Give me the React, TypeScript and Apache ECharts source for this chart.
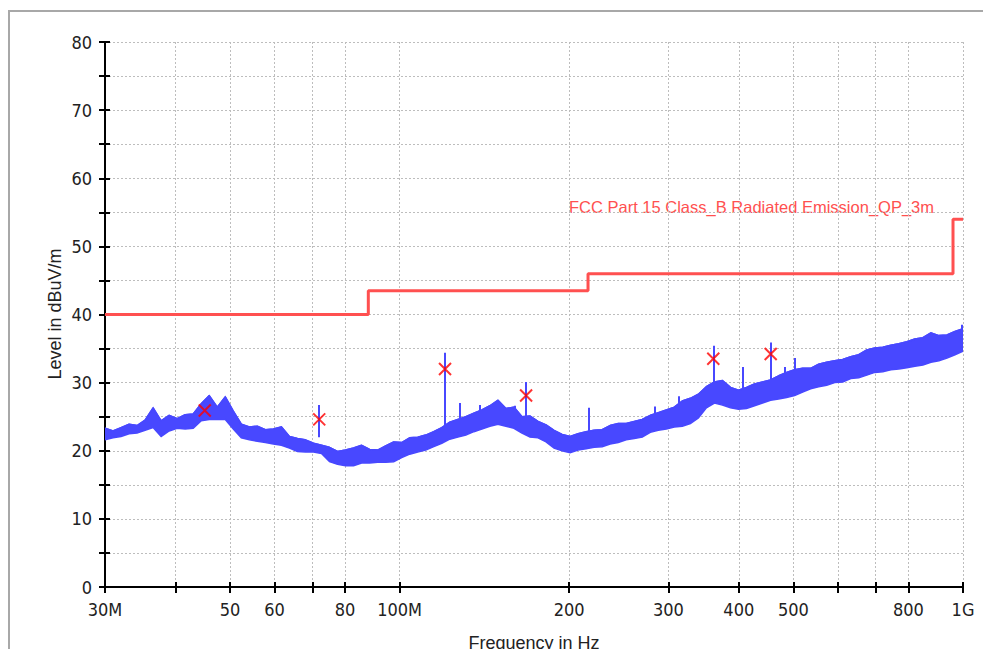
import React, { useEffect, useRef } from "react";
import * as echarts from "echarts";

// Frequency axis ticks (MHz) and their labels
const tickMHz = [30, 40, 50, 60, 70, 80, 100, 200, 300, 400, 500, 600, 700, 800, 1000];
const tickLabels = ["30M", "", "50", "60", "", "80", "100M", "200", "300", "400", "500", "", "", "800", "1G"];

// Level axis
const levelMin = 0;
const levelMax = 80;
const levelStep = 10;
const levelTitle = "Level in dBuV/m";
const freqTitle = "Frequency in Hz";

// Limit line (FCC Part 15 Class B, QP, 3 m)
const limitName = "FCC Part 15 Class_B Radiated Emission_QP_3m";
const limitMHz = [30, 88, 216, 960, 1000];
const limitLevel = [40, 43.5, 46, 54, 54];

// Final measurement markers
const markerMHz = [45.1, 72.0, 120.4, 167.7, 360.4, 455.7];
const markerLevel = [25.9, 24.6, 32.0, 28.1, 33.5, 34.2];

// Narrow spikes in the pre-scan trace
const spikeMHz = [72.0, 120.4, 128.0, 138.9, 160.2, 167.7, 216.9, 284.0, 313.3, 360.4, 406.8, 455.7, 483.0, 503.0, 995.9];
const spikeBase = [22.0, 22.0, 24.0, 24.5, 25.0, 24.0, 22.0, 24.5, 24.5, 28.0, 27.0, 29.0, 29.5, 29.5, 35.0];
const spikeTop = [26.7, 34.4, 27.0, 26.7, 26.6, 30.1, 26.3, 26.5, 28.0, 35.4, 32.3, 35.9, 32.3, 33.6, 38.5];

// Pre-scan trace: upper and lower edges of the noisy band, read on the sweep's log-spaced grid
const traceStartMHz = 30;
const traceStopMHz = 1000;
const traceUpper = [
  23.3, 22.9, 23.4, 23.9, 23.7, 24.5, 26.3, 24.4, 25.2, 24.7,
  25.3, 25.4, 26.9, 28.1, 26.4, 27.9, 25.8, 23.9, 23.5, 23.6,
  23.1, 23.2, 23.5, 22.1, 21.8, 21.6, 21.1, 20.8, 20.5, 19.9,
  20.1, 20.4, 20.8, 20.2, 20.1, 20.7, 21.3, 21.2, 21.9, 22.0,
  22.3, 22.8, 23.4, 24.2, 24.6, 25.0, 25.5, 26.0, 26.6, 27.4,
  26.2, 26.4, 25.0, 25.1, 24.3, 23.8, 23.0, 22.4, 22.1, 22.5,
  22.8, 23.0, 23.1, 23.7, 24.0, 24.0, 24.3, 24.6, 25.2, 25.6,
  26.0, 26.4, 27.3, 27.7, 28.3, 29.4, 30.1, 30.3, 29.3, 28.9,
  29.3, 29.8, 30.1, 30.4, 31.0, 31.5, 31.9, 32.1, 32.1, 32.7,
  33.0, 33.2, 33.4, 33.8, 34.1, 34.8, 35.1, 35.2, 35.5, 35.7,
  36.0, 36.4, 36.6, 37.3, 36.9, 37.0, 37.5, 37.9,
];
const traceLower = [
  21.6, 21.9, 22.1, 22.5, 22.6, 23.0, 23.4, 22.1, 22.9, 23.3,
  23.2, 23.3, 24.4, 24.6, 24.6, 24.6, 23.2, 21.9, 21.6, 21.4,
  21.2, 21.0, 20.8, 20.4, 19.9, 19.8, 19.8, 19.6, 18.4, 18.0,
  17.8, 17.8, 18.2, 18.2, 18.3, 18.3, 18.4, 19.0, 19.5, 19.8,
  20.1, 20.6, 21.1, 21.7, 22.0, 22.3, 22.8, 23.2, 23.6, 23.9,
  23.6, 23.3, 22.6, 22.0, 21.9, 21.3, 20.4, 20.0, 19.7, 20.1,
  20.3, 20.5, 20.6, 21.0, 21.2, 21.6, 21.8, 22.0, 22.7, 23.0,
  23.2, 23.5, 23.6, 24.0, 24.8, 26.3, 27.0, 26.7, 26.3, 26.1,
  26.2, 26.6, 27.0, 27.4, 27.6, 27.8, 28.1, 28.6, 29.1, 29.4,
  29.6, 30.0, 30.1, 30.6, 30.7, 31.1, 31.5, 31.6, 31.9, 32.0,
  32.2, 32.4, 32.6, 33.0, 33.2, 33.6, 34.1, 34.6,
];

const tickFont = "'Liberation Sans Narrow', 'DejaVu Sans Condensed', sans-serif";
const nameFont = "'Liberation Sans', Arial, sans-serif";
const traceColor = "#4848ff";

export default function App() {
  const ref = useRef<HTMLDivElement>(null);

  useEffect(() => {
    if (!ref.current) return;
    const chart = echarts.init(ref.current, null, { renderer: "svg" });
    const lg = (m: number) => Math.log10(m);
    const xMin = lg(tickMHz[0]);
    const xMax = lg(tickMHz[tickMHz.length - 1]);
    const tickVals = tickMHz.map(lg);
    const labelVals = tickMHz.filter((_, i) => tickLabels[i] !== "").map(lg);
    const fmt = (v: number) => {
      const i = tickMHz.findIndex((m) => Math.abs(lg(m) - v) < 1e-6);
      return i >= 0 ? tickLabels[i] : "";
    };
    const n = traceUpper.length;
    const a = lg(traceStartMHz);
    const b = lg(traceStopMHz);
    const gridX = traceUpper.map((_, k) => a + (k / (n - 1)) * (b - a));
    const upperData = traceUpper.map((v, k) => [gridX[k], v]);
    const lowerData = traceLower.map((v, k) => [gridX[k], v]);
    const limitData = limitMHz.map((m, i) => [lg(m), limitLevel[i]]);
    const markerData = markerMHz.map((m, i) => [lg(m), markerLevel[i]]);
    const spikeLines = spikeMHz.map((m, i) => [
      { coord: [lg(m), spikeBase[i]] },
      { coord: [lg(m), spikeTop[i]] },
    ]);

    const gridRect = { left: 105, right: 20, top: 42, bottom: 62, outerBoundsMode: "none" };
    const dotted = { color: "#bdbdbd", width: 1, type: [2, 2] as any };

    chart.setOption({
      animation: false,
      backgroundColor: "#ffffff",
      grid: [{ ...gridRect }, { ...gridRect }],
      xAxis: [
        {
          type: "value",
          gridIndex: 0,
          min: xMin,
          max: xMax,
          axisLine: { show: true, lineStyle: { color: "#000", width: 2 } },
          axisTick: { show: true, customValues: tickVals, length: 6, lineStyle: { color: "#000", width: 2 } },
          axisLabel: {
            customValues: labelVals,
            formatter: fmt,
            margin: 13,
            fontSize: 18,
            fontFamily: tickFont,
            color: "#222",
          },
          splitLine: { show: true, lineStyle: dotted },
          name: freqTitle,
          nameLocation: "middle",
          nameGap: 47,
          nameTextStyle: { fontSize: 18, fontFamily: nameFont, color: "#222" },
        },
        {
          type: "value",
          gridIndex: 1,
          min: xMin,
          max: xMax,
          axisLine: { show: false },
          axisTick: { show: true, inside: true, customValues: tickVals, length: 5, lineStyle: { color: "#000", width: 2 } },
          axisLabel: { show: false },
          splitLine: { show: false },
        },
      ],
      yAxis: [
        {
          type: "value",
          gridIndex: 0,
          min: levelMin,
          max: levelMax,
          interval: levelStep,
          axisLine: { show: true, lineStyle: { color: "#000", width: 2 } },
          axisTick: { show: true, length: 6, lineStyle: { color: "#000", width: 2 } },
          minorTick: { show: true, splitNumber: 2, length: 6, lineStyle: { color: "#000", width: 2 } },
          axisLabel: { margin: 13, fontSize: 18, fontFamily: tickFont, color: "#222" },
          splitLine: { show: true, lineStyle: dotted },
          minorSplitLine: { show: true, lineStyle: dotted },
        },
        {
          type: "value",
          gridIndex: 1,
          min: levelMin,
          max: levelMax,
          interval: levelStep,
          axisLine: { show: false },
          axisTick: { show: true, inside: true, length: 5, lineStyle: { color: "#000", width: 2 } },
          minorTick: { show: true, splitNumber: 2, length: 5, lineStyle: { color: "#000", width: 2 } },
          axisLabel: { show: false },
          splitLine: { show: false },
        },
      ],
      series: [
        {
          type: "custom",
          name: "Pre-scan band",
          xAxisIndex: 0,
          yAxisIndex: 0,
          data: [upperData[0]],
          clip: true,
          silent: true,
          z: 3,
          renderItem: (params: any, api: any) => {
            if (params.dataIndex !== 0) return null;
            const pts: number[][] = [];
            for (let k = 0; k < n; k++) pts.push(api.coord(upperData[k]));
            for (let k = n - 1; k >= 0; k--) pts.push(api.coord(lowerData[k]));
            return {
              type: "polygon",
              shape: { points: pts },
              style: { fill: traceColor, stroke: traceColor, lineWidth: 1.5 },
            };
          },
        },
        {
          type: "line",
          name: "Pre-scan",
          xAxisIndex: 0,
          yAxisIndex: 0,
          data: upperData,
          symbol: "none",
          showSymbol: false,
          lineStyle: { color: traceColor, width: 1.5 },
          z: 3,
          markLine: {
            silent: true,
            symbol: ["none", "none"],
            label: { show: false },
            emphasis: { disabled: true },
            lineStyle: { color: traceColor, width: 2, type: "solid" },
            data: spikeLines,
          },
        },
        {
          type: "line",
          name: limitName,
          xAxisIndex: 0,
          yAxisIndex: 0,
          step: "end",
          data: limitData,
          symbol: "none",
          showSymbol: false,
          lineStyle: { color: "#ff5050", width: 3 },
          z: 4,
        },
        {
          type: "scatter",
          name: "Final",
          xAxisIndex: 0,
          yAxisIndex: 0,
          data: markerData,
          symbol: "path://M0 0L10 10M10 0L0 10",
          symbolSize: 12,
          itemStyle: { color: "transparent", borderColor: "#ff0000", borderWidth: 2 },
          z: 5,
        },
      ],
      graphic: [
        {
          type: "polyline",
          shape: { points: [[9, 649], [9, 11], [983, 11]] },
          style: { stroke: "#a8a8a8", lineWidth: 2, fill: "none" },
          silent: true,
        },
        {
          type: "text",
          x: 55,
          y: 314,
          rotation: Math.PI / 2,
          style: {
            text: levelTitle,
            fill: "#222",
            font: "18px 'Liberation Sans', Arial, sans-serif",
            textAlign: "center",
            textVerticalAlign: "middle",
          },
          silent: true,
        },
        {
          type: "text",
          x: 934,
          y: 207,
          style: {
            text: limitName,
            fill: "#ff5050",
            font: "16.5px 'Liberation Sans', Arial, sans-serif",
            textAlign: "right",
            textVerticalAlign: "middle",
          },
          silent: true,
        },
      ],
    });

    return () => chart.dispose();
  }, []);

  return (
    <div
      ref={ref}
      style={{ position: "absolute", left: 0, top: 0, width: 983, height: 649, background: "#fff" }}
    />
  );
}
